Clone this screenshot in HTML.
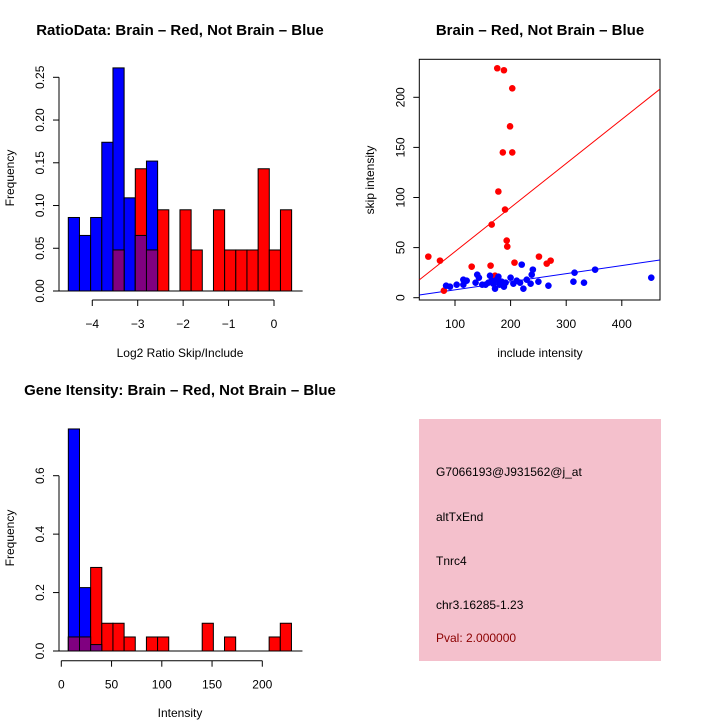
<!DOCTYPE html>
<html><head><meta charset="utf-8"><style>
body{margin:0;background:#fff}
svg{display:block;font-family:"Liberation Sans",sans-serif}
</style></head><body>
<svg id="s" width="720" height="720" viewBox="0 0 720 720">
<rect width="720" height="720" fill="#fff"/>
<g id="p1">
<text x="180" y="35" text-anchor="middle" font-size="15" font-weight="bold">RatioData: Brain – Red, Not Brain – Blue</text>
<text x="180" y="357" text-anchor="middle" font-size="12">Log2 Ratio Skip/Include</text>
<text transform="translate(14,178) rotate(-90)" text-anchor="middle" font-size="12">Frequency</text>
</g>
<g id="p2">
<text x="540" y="35" text-anchor="middle" font-size="15" font-weight="bold">Brain – Red, Not Brain – Blue</text>
<text x="540" y="357" text-anchor="middle" font-size="12">include intensity</text>
<text transform="translate(374,180) rotate(-90)" text-anchor="middle" font-size="12">skip intensity</text>
</g>
<g id="p3">
<text x="180" y="395" text-anchor="middle" font-size="15" font-weight="bold">Gene Itensity: Brain – Red, Not Brain – Blue</text>
<text x="180" y="717" text-anchor="middle" font-size="12">Intensity</text>
<text transform="translate(14,538) rotate(-90)" text-anchor="middle" font-size="12">Frequency</text>
</g>
<g>
<rect x="419" y="419" width="242" height="242" fill="#f4c0cc"/>
<text x="436" y="476" font-size="12">G7066193@J931562@j_at</text>
<text x="436" y="521" font-size="12">altTxEnd</text>
<text x="436" y="565" font-size="12">Tnrc4</text>
<text x="436" y="609" font-size="12">chr3.16285-1.23</text>
<text x="436" y="642" font-size="12" fill="#8b0000">Pval: 2.000000</text>
</g>
</svg>
<script>
// Ratio histogram data
const ratioBinStart = -4.528, ratioBinWidth = 0.2458;
const ratioBlue = [0.086,0.065,0.086,0.174,0.261,0.109,0.065,0.152,0,0,0,0,0,0,0,0,0,0,0,0];
const ratioRed  = [0,0,0,0,0.048,0,0.143,0.048,0.095,0,0.095,0.048,0,0.095,0.048,0.048,0.048,0.143,0.048,0.095];
const ratioYTicks = [0,0.05,0.10,0.15,0.20,0.25];
const ratioYLabels = ["0.00","0.05","0.10","0.15","0.20","0.25"];
const ratioXTicks = [-4,-3,-2,-1,0];
const ratioXLabels = ["−4","−3","−2","−1","0"];
// Scatter data
const redX = [52,73,80,130,164,166,176,188,178,186,190,193,194,199,203,203,207,251,265,272,172];
const redY = [41,37,7,31,32,73,229,227,106,145,88,57,51,171,209,145,35,41,34,37,22];
const blueX = [84,91,103,115,115,121,137,140,143,149,155,160,163,166,169,172,175,178,180,184,188,191,200,205,211,217,220,223,229,236,238,240,250,268,313,315,332,352,453];
const blueY = [12,11,13,18,13,17,15,23,20,13,13,15,22,17,14,9,18,21,13,16,11,15,20,14,17,15,33,9,18,14,23,28,16,12,16,25,15,28,20];
const redFit = [2.0, 0.44];
const blueFit = [-0.2, 0.0806];
const scXTicks = [100,200,300,400];
const scYTicks = [0,50,100,150,200];
// Intensity histogram data
const intBinStart = 7, intBinWidth = 11.1;
const intBlue = [0.76,0.217,0.022,0,0,0,0,0,0,0,0,0,0,0,0,0,0,0,0,0];
const intRed  = [0.048,0.048,0.286,0.095,0.095,0.048,0,0.048,0.048,0,0,0,0.095,0,0.048,0,0,0,0.048,0.095];
const intYTicks = [0,0.2,0.4,0.6];
const intYLabels = ["0.0","0.2","0.4","0.6"];
const intXTicks = [0,50,100,150,200];

const NS="http://www.w3.org/2000/svg";
function mk(parent,tag,attrs){const e=document.createElementNS(NS,tag);for(const k in attrs)e.setAttribute(k,attrs[k]);parent.appendChild(e);return e;}

function hist(g, xs, ys, start, w, blue, red, yTicks, yLabels, xTicks, xLabels, yAxisX, xAxisY, pre){
  const rect=(i,v0,v1,fill,name)=>{
    const r=mk(g,'rect',{x:xs(start+i*w),y:ys(v1),width:xs(start+(i+1)*w)-xs(start+i*w),height:ys(v0)-ys(v1),fill:fill,stroke:'#000','stroke-width':1});
    
    
  };
  blue.forEach((v,i)=>{ if(v>0) rect(i,0,v,'#0000ff',pre+'-blue-bar'); });
  red.forEach((v,i)=>{ if(v>0) rect(i,0,v,'#ff0000',pre+'-red-bar'); });
  blue.forEach((v,i)=>{ const m=Math.min(v,red[i]); if(m>0) rect(i,0,m,'#800080',pre+'-overlap-bar'); });
  const ya=mk(g,'line',{x1:yAxisX,x2:yAxisX,y1:ys(yTicks[0]),y2:ys(yTicks[yTicks.length-1]),stroke:'#000'});
  
  
  yTicks.forEach((t,i)=>{
    mk(g,'line',{x1:yAxisX-6,x2:yAxisX,y1:ys(t),y2:ys(t),stroke:'#000'});
    const tx=mk(g,'text',{transform:`translate(${yAxisX-15},${ys(t)}) rotate(-90)`,'text-anchor':'middle','font-size':12});
    tx.textContent=yLabels[i];
    
    
  });
  const xa=mk(g,'line',{x1:xs(xTicks[0]),x2:xs(xTicks[xTicks.length-1]),y1:xAxisY,y2:xAxisY,stroke:'#000'});
  
  
  xTicks.forEach((t,i)=>{
    mk(g,'line',{x1:xs(t),x2:xs(t),y1:xAxisY,y2:xAxisY+6,stroke:'#000'});
    const tx=mk(g,'text',{x:xs(t),y:xAxisY+28,'text-anchor':'middle','font-size':12});
    tx.textContent=xLabels[i];
    
    
  });
  mk(g,'line',{x1:xs(start)-12,x2:xs(start+20*w)+11,y1:ys(0),y2:ys(0),stroke:'#000'});
}

// Panel 1
const x1=v=>274+(v-0)*45.43, y1=v=>291-v*(213.7/0.25);
hist(document.getElementById('p1'),x1,y1,ratioBinStart,ratioBinWidth,ratioBlue,ratioRed,ratioYTicks,ratioYLabels,ratioXTicks,ratioXLabels,59,300,'ratio');

// Panel 3
const x3=v=>61.3+v*1.005, y3=v=>651-v*(175.3/0.6);
hist(document.getElementById('p3'),x3,y3,intBinStart,intBinWidth,intBlue,intRed,intYTicks,intYLabels,intXTicks,intXTicks.map(String),59,660.7,'intensity');

// Panel 2
(function(){
  const g=document.getElementById('p2');
  const xs=v=>455+(v-100)*0.556, ys=v=>297.7-v*1.002;
  const L=419.3,R=660,T=59.3,B=300;
  const box=mk(g,'rect',{x:L,y:T,width:R-L,height:B-T,fill:'none',stroke:'#000'});
  
  
  const cp=mk(g,'clipPath',{id:'c2'}); mk(cp,'rect',{x:L,y:T,width:R-L,height:B-T});
  const xd0=100+(L-455)/0.556, xd1=100+(R-455)/0.556;
  [[redFit,'#ff0000','red-fit-line'],[blueFit,'#0000ff','blue-fit-line']].forEach(([f,c,n])=>{
    const l=mk(g,'line',{x1:xs(xd0),y1:ys(f[0]+f[1]*xd0),x2:xs(xd1),y2:ys(f[0]+f[1]*xd1),stroke:c,'clip-path':'url(#c2)'});
    
    
  });
  redX.forEach((x,i)=>{
    const c=mk(g,'circle',{cx:xs(x),cy:ys(redY[i]),r:3.3,fill:'#ff0000'});
    
    
  });
  blueX.forEach((x,i)=>{
    const c=mk(g,'circle',{cx:xs(x),cy:ys(blueY[i]),r:3.3,fill:'#0000ff'});
    
    
  });
  scXTicks.forEach(t=>{
    mk(g,'line',{x1:xs(t),x2:xs(t),y1:B,y2:B+6,stroke:'#000'});
    const tx=mk(g,'text',{x:xs(t),y:B+28,'text-anchor':'middle','font-size':12});
    tx.textContent=String(t);
    
    
  });
  scYTicks.forEach(t=>{
    mk(g,'line',{x1:L-6,x2:L,y1:ys(t),y2:ys(t),stroke:'#000'});
    const tx=mk(g,'text',{transform:`translate(${L-15},${ys(t)}) rotate(-90)`,'text-anchor':'middle','font-size':12});
    tx.textContent=String(t);
    
    
  });
})();
</script>
</body></html>
